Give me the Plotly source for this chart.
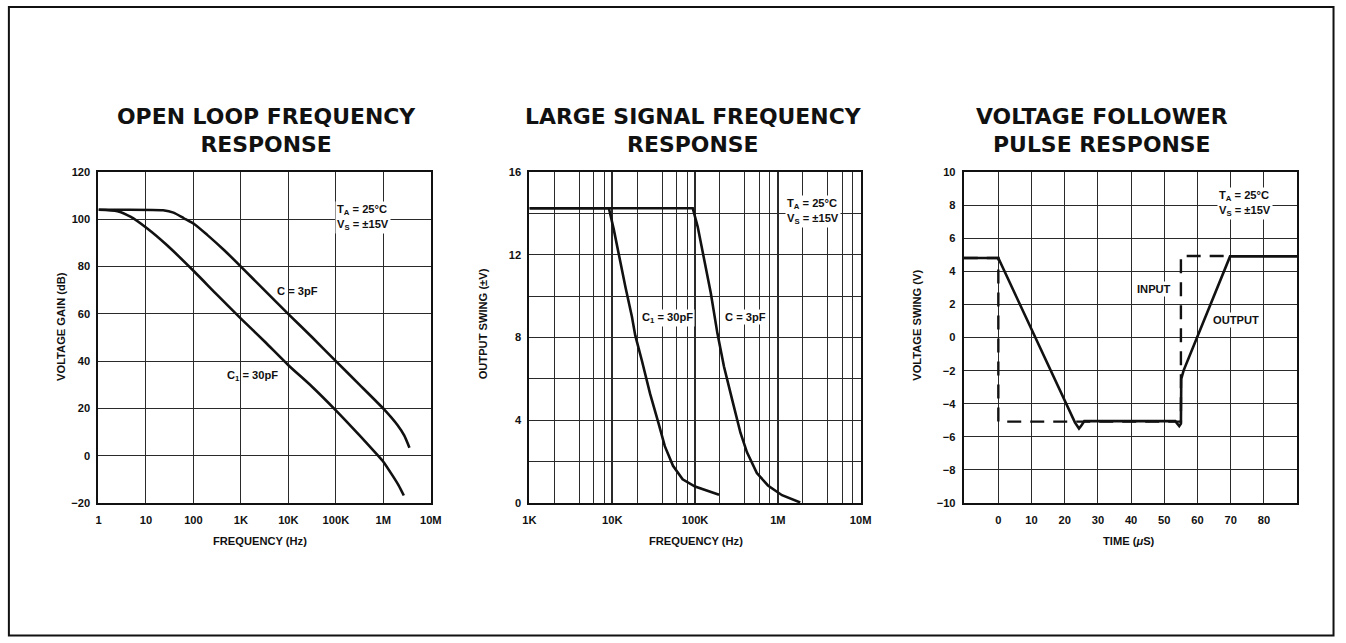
import plotly.graph_objects as go

W, H = 1346, 643  # reference frame (pixels) used to place items as fractions of the page

# ---------------- data ----------------
# Panel 1: open loop frequency response
ol_freq_3pf = [1, 23, 38, 63, 105, 195, 440, 1000, 3200, 10000, 32000, 100000, 310000, 1050000, 2000000, 2750000, 3550000]
ol_gain_3pf = [104, 103.8, 102.8, 100.4, 97.9, 93.4, 87, 80, 69.8, 59.9, 50, 40, 30.2, 19.5, 12.9, 8.6, 3.4]
ol_freq_30pf = [1, 2.5, 4.7, 10.5, 27.5, 105, 320, 1000, 3200, 10000, 32000, 100000, 316000, 741000, 1000000, 1580000, 2100000, 2700000]
ol_gain_30pf = [104, 103.4, 101.1, 96.2, 89.1, 77.8, 67.9, 58, 48.2, 38.3, 29.1, 19.2, 8.6, 0.5, -2.5, -8.5, -12.5, -16.8]
ol_xtick_vals = [1, 10, 100, 1e3, 1e4, 1e5, 1e6, 1e7]
ol_xtick_text = ["1", "10", "100", "1K", "10K", "100K", "1M", "10M"]
ol_ytick_vals = [-20, 0, 20, 40, 60, 80, 100, 120]
ol_ytick_text = ["\u221220", "0", "20", "40", "60", "80", "100", "120"]

# Panel 2: large signal frequency response
ls_freq_30pf = [1000, 9120, 10470, 12000, 14420, 17300, 18970, 22750, 28580, 35970, 43150, 54200, 70800, 100000, 141000, 195000]
ls_swing_30pf = [14.25, 14.25, 13.2, 12.0, 10.45, 9.0, 8.1, 6.9, 5.3, 3.9, 2.75, 1.8, 1.15, 0.8, 0.58, 0.4]
ls_freq_3pf = [1000, 93800, 107700, 129100, 154900, 186200, 223400, 280500, 353200, 423600, 557200, 758600, 1122000, 1862000]
ls_swing_3pf = [14.25, 14.25, 13.35, 11.75, 10.15, 8.2, 6.6, 5.0, 3.4, 2.45, 1.45, 0.85, 0.38, 0.03]
ls_decades = [1e3, 1e4, 1e5, 1e6, 1e7]
ls_decade_text = ["1K", "10K", "100K", "1M", "10M"]
ls_minor_mult = [2, 4, 6, 8]
ls_ytick_vals = [0, 2, 4, 6, 8, 10, 12, 14, 16]
ls_ytick_text = ["0", "", "4", "", "8", "", "12", "", "16"]

# Panel 3: voltage follower pulse response
vf_time_out = [-10.4, 0, 23.1, 23.8, 24.3, 24.9, 25.9, 53.3, 54.0, 54.5, 55.0, 55.1, 55.8, 69.8, 90]
vf_volt_out = [4.8, 4.8, -5.14, -5.4, -5.5, -5.35, -5.04, -5.05, -5.2, -5.35, -5.2, -2.5, -2.0, 4.9, 4.9]
vf_time_in = [-10.4, 0, 0, 55, 55, 70]
vf_volt_in = [4.8, 4.8, -5.08, -5.08, 4.92, 4.92]
vf_xtick_vals = [0, 10, 20, 30, 40, 50, 60, 70, 80]
vf_ytick_vals = [-10, -8, -6, -4, -2, 0, 2, 4, 6, 8, 10]
vf_ytick_text = ["\u221210", "\u22128", "\u22126", "\u22124", "\u22122", "0", "2", "4", "6", "8", "10"]

# ---------------- helpers ----------------
# the photographed page appears slightly inset/scaled; compensate so items land where the reference has them
SX, OX = 0.9857, 7.1
SY, OY = 0.981, 6.1

def px(x):
    return min(max(((x - OX) / SX) / W, 0.0), 1.0)

def py(y):
    return min(max(1 - ((y - OY) / SY) / H, 0.0), 1.0)

FS = 1 / SX  # font compensation

FONT = "Liberation Sans, Arial, Helvetica, sans-serif"
TFONT = "DejaVu Sans, Liberation Sans, sans-serif"
INK = "#111111"
GRID = "#2a2a2a"

tickfont = dict(family=FONT, size=11 * FS, color=INK, weight="bold")

ls_minor_vals = [d * m for d in ls_decades[:-1] for m in ls_minor_mult]

fig = go.Figure()

curve = dict(color=INK, width=2.6)

fig.add_trace(go.Scatter(x=ol_freq_3pf, y=ol_gain_3pf, mode="lines", line=dict(**curve, shape="spline", smoothing=0.6),
                         xaxis="x", yaxis="y", showlegend=False, hoverinfo="skip"))
fig.add_trace(go.Scatter(x=ol_freq_30pf, y=ol_gain_30pf, mode="lines", line=dict(**curve, shape="spline", smoothing=0.6),
                         xaxis="x", yaxis="y", showlegend=False, hoverinfo="skip"))
fig.add_trace(go.Scatter(x=ls_freq_30pf, y=ls_swing_30pf, mode="lines", line=dict(**curve),
                         xaxis="x2", yaxis="y2", showlegend=False, hoverinfo="skip"))
fig.add_trace(go.Scatter(x=ls_freq_3pf, y=ls_swing_3pf, mode="lines", line=dict(**curve),
                         xaxis="x2", yaxis="y2", showlegend=False, hoverinfo="skip"))
fig.add_trace(go.Scatter(x=vf_time_in, y=vf_volt_in, mode="lines", line=dict(color=INK, width=2.4, dash="14px,9px"),
                         xaxis="x3", yaxis="y3", showlegend=False, hoverinfo="skip"))
fig.add_trace(go.Scatter(x=vf_time_out, y=vf_volt_out, mode="lines", line=dict(**curve),
                         xaxis="x3", yaxis="y3", showlegend=False, hoverinfo="skip"))

ydom = [py(503), py(172)]

common_axis = dict(showgrid=True, gridcolor=GRID, gridwidth=1, showline=True, linecolor=INK, linewidth=2,
                   mirror=True, ticks="", zeroline=False, tickfont=tickfont, fixedrange=True)

fig.update_layout(
    autosize=True, margin=dict(l=0, r=0, t=0, b=0),
    paper_bgcolor="white", plot_bgcolor="white",
    xaxis=dict(**common_axis, type="log", range=[0, 7], domain=[px(98.5), px(430.5)], anchor="y",
               tickvals=ol_xtick_vals, ticktext=ol_xtick_text, ticklabelstandoff=6),
    yaxis=dict(**common_axis, range=[-20, 120], domain=ydom, anchor="x",
               tickvals=ol_ytick_vals, ticktext=ol_ytick_text, ticklabelstandoff=4),
    xaxis2=dict(**{**common_axis, "gridwidth": 1.8}, type="log", range=[3, 7], domain=[px(529), px(860)], anchor="y2",
                tickvals=ls_decades, ticktext=ls_decade_text, ticklabelstandoff=6,
                minor=dict(tickvals=ls_minor_vals, showgrid=True, gridcolor=GRID, gridwidth=1, ticks="")),
    yaxis2=dict(**common_axis, range=[0, 16], domain=ydom, anchor="x2",
                tickvals=ls_ytick_vals, ticktext=ls_ytick_text, ticklabelstandoff=4),
    xaxis3=dict(**common_axis, range=[-10.4, 90], domain=[px(963), px(1296)], anchor="y3",
                tickvals=vf_xtick_vals, ticklabelstandoff=6),
    yaxis3=dict(**common_axis, range=[-10, 10], domain=ydom, anchor="x3",
                tickvals=vf_ytick_vals, ticktext=vf_ytick_text, ticklabelstandoff=4),
)

annotations = []

def label(text, x, y, size=11, bg=None, xanchor="center", align="center", angle=0, family=FONT):
    a = dict(text=text, x=px(x), y=py(y), xref="paper", yref="paper", showarrow=False,
             font=dict(family=family, size=size * FS, color=INK, weight="bold"),
             xanchor=xanchor, yanchor="middle", align=align, textangle=angle)
    if bg:
        a["bgcolor"] = bg
        a["borderpad"] = 1
    annotations.append(a)

# titles
label("OPEN LOOP FREQUENCY<br>RESPONSE", 266, 131, size=21.6, family=TFONT)
label("LARGE SIGNAL FREQUENCY<br>RESPONSE", 693, 131, size=21.6, family=TFONT)
label("VOLTAGE FOLLOWER<br>PULSE RESPONSE", 1101, 131, size=21.6, family=TFONT)

# axis titles
label("VOLTAGE GAIN (dB)", 61, 326, angle=-90)
label("FREQUENCY (Hz)", 260, 541)
label("OUTPUT SWING (\u00b1V)", 483, 324, angle=-90)
label("FREQUENCY (Hz)", 695, 541)
label("VOLTAGE SWING (V)", 916, 325, angle=-90)
label("TIME (<i>\u03bc</i>S)", 1128, 541)

# conditions
cond = "T<sub>A</sub> = 25\u00b0C<br>V<sub>S</sub> = \u00b115V"
label(cond, 335, 218, bg="white", xanchor="left", align="left")
label(cond, 784, 212, bg="white", xanchor="left", align="left")
label(cond, 1216, 204, bg="white", xanchor="left", align="left")

# curve labels
label("C = 3pF", 297, 291)
label("C<sub>1</sub> = 30pF", 252, 376)
label("C<sub>1</sub> = 30pF", 667, 318, bg="white")
label("C = 3pF", 745, 317, bg="white")
label("INPUT", 1153, 289, bg="white")
label("OUTPUT", 1235, 320, bg="white")

fig.update_layout(annotations=annotations)

# outer frame of the sheet
fig.add_shape(type="rect", xref="paper", yref="paper",
              x0=px(8) + 1 / W, x1=1 - 1.5 / W, y0=1.5 / H, y1=py(5) - 1 / H,
              line=dict(color=INK, width=2), fillcolor="rgba(0,0,0,0)", layer="above")

fig.write_html(
    "out.html",
    default_width="100vw",
    default_height="100vh",
    config={"displayModeBar": False, "responsive": True},
    post_script="document.documentElement.style.margin='0';document.documentElement.style.overflow='hidden';"
                "document.body.style.margin='0';document.body.style.padding='0';document.body.style.overflow='hidden';",
)
